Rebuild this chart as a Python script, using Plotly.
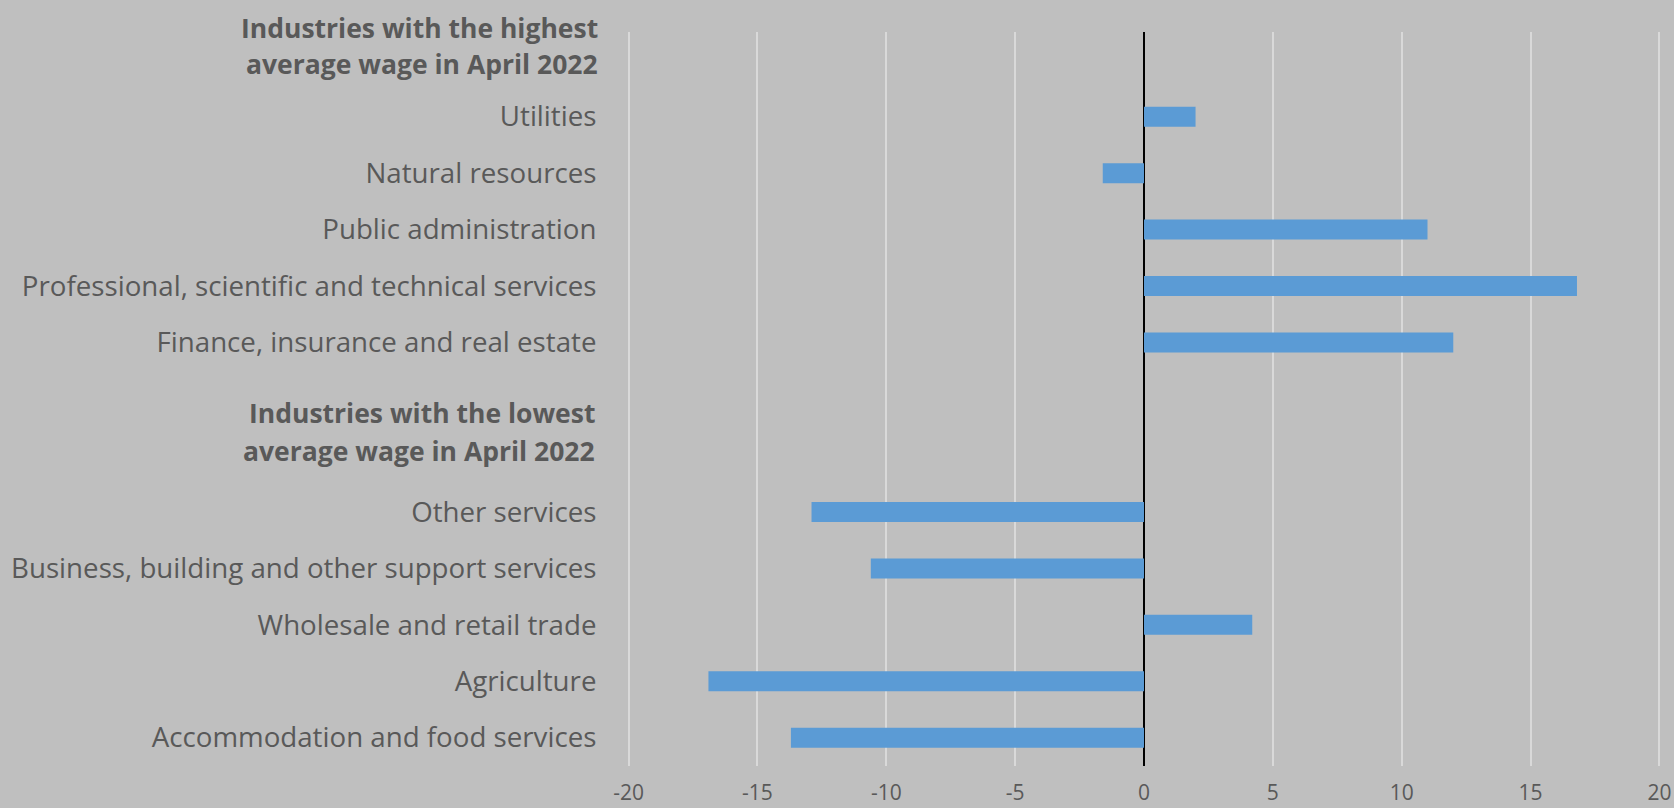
import plotly.graph_objects as go

# Categories (bottom to top), including blank slots used for the section headers
categories = [
    "Accommodation and food services",
    "Agriculture",
    "Wholesale and retail trade",
    "Business, building and other support services",
    "Other services",
    "hdr_low_b",
    "hdr_low_a",
    "Finance, insurance and real estate",
    "Professional, scientific and technical services",
    "Public administration",
    "Natural resources",
    "Utilities",
    "hdr_high",
]
values = [-13.7, -16.9, 4.2, -10.6, -12.9, None, None, 12.0, 16.8, 11.0, -1.6, 2.0, None]
tick_labels = [("" if c.startswith("hdr_") else c) for c in categories]

header_high = ["Industries with the highest", "average wage in April 2022"]
header_low = ["Industries with the lowest", "average wage in April 2022"]

x_ticks = [-20, -15, -10, -5, 0, 5, 10, 15, 20]

TEXT = "#595959"
FONT = "'Open Sans', 'Noto Sans', sans-serif"

fig = go.Figure()
fig.add_trace(go.Bar(
    x=values,
    y=categories,
    orientation="h",
    marker=dict(color="#5B9BD5", line=dict(width=0)),
    hoverinfo="x+y",
))

fig.update_layout(
    width=1674,
    height=808,
    margin=dict(l=627, r=13, t=32, b=42),
    paper_bgcolor="#BFBFBF",
    plot_bgcolor="#BFBFBF",
    bargap=0.646,
    showlegend=False,
    font=dict(family=FONT, color=TEXT),
)

fig.update_xaxes(
    automargin=False,
    range=[-20.06, 20.06],
    tickvals=x_ticks,
    ticktext=[str(v) for v in x_ticks],
    tickfont=dict(size=21, color=TEXT, family=FONT),
    showgrid=True,
    gridcolor="#D9D9D9",
    gridwidth=1.5,
    zeroline=True,
    zerolinecolor="#000000",
    zerolinewidth=2,
    showline=False,
    ticks="outside",
    ticklen=8,
    tickcolor="rgba(0,0,0,0)",
    fixedrange=True,
)

fig.update_yaxes(
    automargin=False,
    type="category",
    categoryorder="array",
    categoryarray=categories,
    tickvals=categories,
    ticktext=tick_labels,
    tickfont=dict(size=27.7, color=TEXT, family=FONT),
    showgrid=False,
    zeroline=False,
    showline=False,
    ticks="outside",
    ticklen=24,
    tickcolor="rgba(0,0,0,0)",
    range=[-0.5, len(categories) - 0.5],
    fixedrange=True,
)

plot_w = 1674 - 627 - 13
hdr_specs = [
    (header_high[0], "hdr_high", 32, 600),
    (header_high[1], "hdr_high", -4, 600),
    (header_low[0], "hdr_low_a", -14, 597),
    (header_low[1], "hdr_low_b", 4, 597),
]
for txt, cat, shift, right_px in hdr_specs:
    fig.add_annotation(
        text="<b>" + txt + "</b>",
        xref="paper", x=(right_px - 627) / plot_w, xanchor="right",
        yref="y", y=cat, yanchor="middle", yshift=shift,
        showarrow=False,
        font=dict(size=26.5, color=TEXT, family=FONT),
        align="right",
    )

fig.write_html(
    "out.html",
    config={"displayModeBar": False},
    post_script="document.body.style.margin='0';document.body.style.overflow='hidden';",
)
